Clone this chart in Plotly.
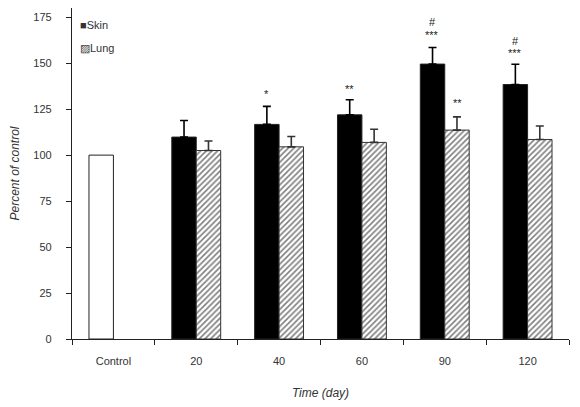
import plotly.graph_objects as go

categories = ["Control", "20", "40", "60", "90", "120"]
control_value = [100]
skin_values = [None, 109.8, 116.7, 121.9, 149.5, 138.4]
skin_err = [0, 9.0, 9.8, 8.2, 9.0, 11.0]
lung_values = [None, 102.5, 104.5, 106.9, 113.6, 108.5]
lung_err = [0, 5.2, 5.6, 7.2, 7.2, 7.3]

# significance marks: (category, series, text, y)
marks = [
    ("40", "skin", "*", 133.0),
    ("60", "skin", "**", 136.0),
    ("90", "skin", "***", 165.2),
    ("90", "skin", "#", 172.3),
    ("90", "lung", "**", 128.3),
    ("120", "skin", "***", 155.4),
    ("120", "skin", "#", 162.0),
]

legend_items = [("■", "Skin", 170.7), ("▨", "Lung", 158.2)]

FONT = "Liberation Sans, Arial, sans-serif"

fig = go.Figure()
fig.add_trace(go.Bar(
    x=categories[:1], y=control_value, name="Control", showlegend=False,
    offsetgroup="a",
    marker=dict(color="white", line=dict(color="#222", width=1)),
))
fig.add_trace(go.Bar(
    x=categories, y=skin_values, name="Skin", offsetgroup="a", showlegend=False,
    marker=dict(color="black", line=dict(color="#222", width=1)),
    error_y=dict(type="data", symmetric=False, array=skin_err,
                 arrayminus=[0] * len(skin_err), color="black",
                 thickness=1.6, width=4),
))
fig.add_trace(go.Bar(
    x=categories, y=lung_values, name="Lung", offsetgroup="b", showlegend=False,
    marker=dict(color="white", line=dict(color="#333", width=1),
                pattern=dict(shape="/", fgcolor="black", bgcolor="white",
                             size=4, solidity=0.4)),
    error_y=dict(type="data", symmetric=False, array=lung_err,
                 arrayminus=[0] * len(lung_err), color="#333",
                 thickness=1.6, width=4),
))

for cat, ser, txt, yv in marks:
    fig.add_annotation(x=categories.index(cat), y=yv, text=txt, showarrow=False,
                       xshift=-12.5 if ser == "skin" else 12.5,
                       font=dict(family=FONT, size=11 if "*" in txt else 11,
                                 color="#222"))

for sym, label, yv in legend_items:
    fig.add_annotation(xref="paper", x=0.012, y=yv, xanchor="left",
                       text=sym + label, showarrow=False,
                       font=dict(family=FONT, size=11, color="#333"))

fig.update_layout(
    width=572, height=399,
    margin=dict(l=64, r=11, t=0, b=68),
    paper_bgcolor="white", plot_bgcolor="white",
    barmode="group", bargap=0.41, bargroupgap=0,
    font=dict(family=FONT, size=11, color="#333"),
    showlegend=False,
)
fig.update_xaxes(
    type="category", categoryorder="array", categoryarray=categories,
    automargin=False,
    showline=True, linecolor="#222", linewidth=1.2,
    ticks="outside", tickson="boundaries", ticklen=5, tickcolor="#222",
    showgrid=False, ticklabelstandoff=12,
    title=dict(text="<i>Time (day)</i>", font=dict(size=12, color="#333"),
               standoff=22),
)
fig.update_yaxes(
    range=[0, 180], tickvals=[0, 25, 50, 75, 100, 125, 150, 175],
    automargin=False,
    showline=True, linecolor="#222", linewidth=1.2,
    ticks="outside", ticklen=5, tickcolor="#222", showgrid=False,
    zeroline=False, ticklabelstandoff=12,
    title=dict(text="<i>Percent of control</i>", font=dict(size=12, color="#333"),
               standoff=14),
)

fig.write_html("out.html")
